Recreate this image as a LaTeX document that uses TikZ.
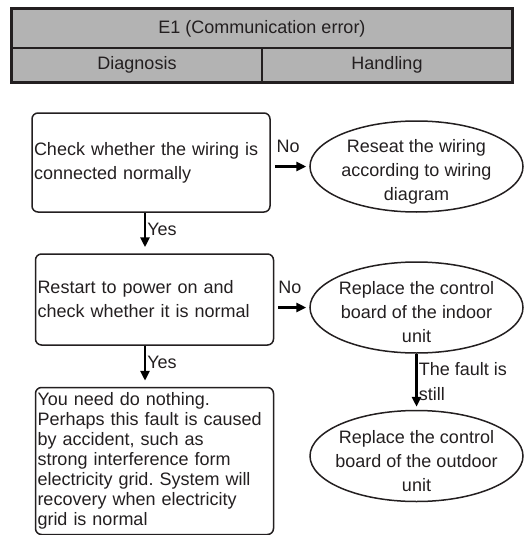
\documentclass[tikz,border=0pt]{standalone}
\usepackage{fontspec}
\setmainfont{Liberation Sans}
\usetikzlibrary{arrows.meta,positioning,shapes.geometric}
\definecolor{ink}{HTML}{231F20}
\definecolor{headbg}{HTML}{B3B3B3}
\frenchspacing

\begin{document}
\begin{tikzpicture}[
  x=1pt,y=-1pt,
  font=\fontsize{18}{20}\selectfont,
  cell/.style={draw=ink,fill=headbg,line width=1.2pt,text=ink,minimum height=34pt,inner sep=0pt},
  stepbox/.style={draw=ink,rounded corners=6pt,line width=1.5pt,text=ink,align=left,text width=234pt,inner sep=2pt,minimum width=238pt},
  action/.style={ellipse,draw=ink,line width=1.5pt,minimum width=213pt,minimum height=91pt,inner sep=0pt},
  actiontext/.style={text=ink,align=center,inner sep=0pt,font=\fontsize{18}{24}\selectfont},
  flow/.style={-{Triangle[length=10pt,width=9pt]},line width=2.5pt,draw=black},
  tag/.style={text=ink,inner sep=1pt}
]
\useasboundingbox (0,0) rectangle (524,535);

% Header table
\node[cell,minimum width=500pt,minimum height=39pt] (title) at (262,28.5) {E1 (Communication error)};
\node[cell,minimum width=250pt] (diag) at (137,65) {Diagnosis};
\node[cell,minimum width=250pt] (hand) at (387,65) {Handling};
\draw[ink,line width=2.4pt] (title.north west) rectangle (hand.south east);

% Diagnosis steps
\node[stepbox,minimum height=99pt,font=\fontsize{18}{24}\selectfont] (check) at (151,162.5) {Check whether the wiring is\\connected normally};
\node[stepbox,minimum height=91pt,font=\fontsize{18}{24}\selectfont] (restart) at (154.5,299.5) {Restart to power on and\\check whether it is normal};
\node[stepbox,minimum height=147pt] (nothing) at (154.5,461) {You need do nothing.\\Perhaps this fault is caused\\by accident, such as\\strong interference form\\electricity grid. System will\\recovery when electricity\\grid is normal};

% Handling
\node[action] (reseat) at (416.5,166.5) {};
\node[actiontext] (reseat-t) at ([yshift=-5pt]reseat.center) {Reseat the wiring\\according to wiring\\diagram};
\node[action] (indoor) at (416.5,307.5) {};
\node[actiontext] (indoor-t) at ([yshift=-5pt]indoor.center) {Replace the control\\board of the indoor\\unit};
\node[action] (outdoor) at (416.5,456) {};
\node[actiontext] (outdoor-t) at ([yshift=-5pt]outdoor.center) {Replace the control\\board of the outdoor\\unit};

% Flows
\draw[flow,shorten >=6pt] (check.south -| 145,0) -- node[tag,right,pos=0.4] {Yes} (restart.north -| 145,0);
\draw[flow,shorten >=6pt] (restart.south -| 145,0) -- node[tag,right,pos=0.4] {Yes} (nothing.north -| 145,0);
\draw[flow,shorten <=4pt,shorten >=3pt] (check.east |- reseat.west) -- node[tag,above=12pt,pos=0.45] {No} (reseat.west);
\draw[flow,shorten <=4pt,shorten >=3pt] (restart.east |- indoor.west) -- node[tag,above=12pt,pos=0.45] {No} (indoor.west);
\draw[flow,shorten >=3pt] (indoor.south) -- node[tag,right,align=left,pos=0.5,font=\fontsize{18}{25}\selectfont] {The fault is\\still} (outdoor.north);
\end{tikzpicture}
\end{document}
